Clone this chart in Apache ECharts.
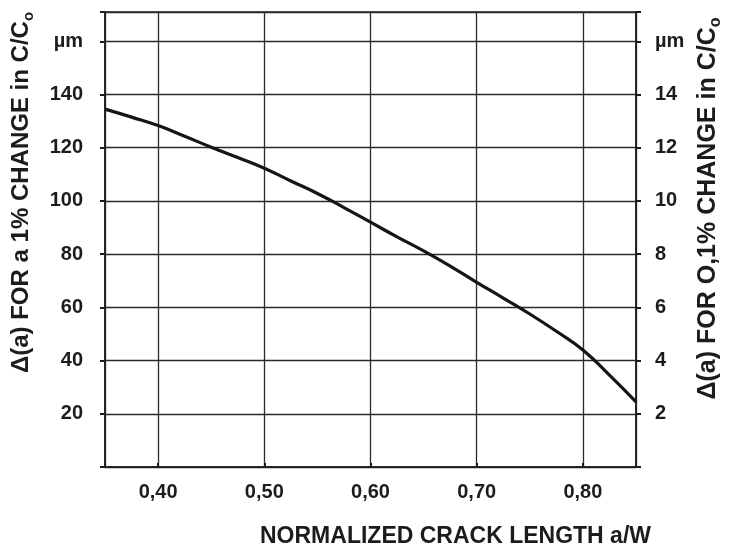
<!DOCTYPE html>
<html>
<head>
<meta charset="utf-8">
<script src="https://cdn.jsdelivr.net/npm/echarts@6/dist/echarts.min.js"></script>
<style>
html,body{margin:0;padding:0;background:#fff;}
#chart{width:732px;height:553px;}
</style>
</head>
<body>
<div id="chart"></div>
<script>
// normalized crack length a/W
const crackLength = [0.35, 0.375, 0.40, 0.425, 0.45, 0.475, 0.50, 0.525, 0.55, 0.575, 0.60, 0.625, 0.65, 0.675, 0.70, 0.725, 0.75, 0.775, 0.80, 0.825, 0.85];
// Δ(a) for a 1% change in C/Co, µm
const deltaA = [134.5, 131.5, 128.3, 124.3, 120.2, 116.3, 112.3, 107.5, 102.8, 97.5, 92.0, 86.5, 81.2, 75.5, 69.4, 63.5, 57.5, 51.0, 44.0, 34.5, 24.5];
const xTickValues = [0.40, 0.50, 0.60, 0.70, 0.80];
const xTickLabels = ['0,40', '0,50', '0,60', '0,70', '0,80'];
const leftTickValues = [20, 40, 60, 80, 100, 120, 140, 160];
const leftTickLabels = ['20', '40', '60', '80', '100', '120', '140', 'µm'];
const rightTickValues = [2, 4, 6, 8, 10, 12, 14, 16];
const rightTickLabels = ['2', '4', '6', '8', '10', '12', '14', 'µm'];

const FONT = 'Liberation Sans';
const INK = '#1c1c1c';

function lookup(vals, labels, v) {
  for (let i = 0; i < vals.length; i++) {
    if (Math.abs(vals[i] - v) < 1e-6) return labels[i];
  }
  return '';
}

const chart = echarts.init(document.getElementById('chart'), null, {renderer: 'canvas'});
chart.setOption({
  backgroundColor: '#ffffff',
  animation: false,
  grid: {
    left: 105, right: 86, top: 12, bottom: 76,
    show: true, borderColor: INK, borderWidth: 1.5, containLabel: false
  },
  xAxis: {
    type: 'value',
    min: 0.35, max: 0.85, splitNumber: 5,
    name: 'NORMALIZED CRACK LENGTH a/W',
    nameLocation: 'middle',
    nameGap: 58,
    nameTextStyle: {fontFamily: FONT, fontWeight: 'bold', fontSize: 23, color: INK, padding: [0, 0, 0, 170]},
    axisLine: {show: true, lineStyle: {color: INK, width: 1.5}},
    axisTick: {show: true, inside: true, length: 4, lineStyle: {color: INK, width: 2}},
    splitLine: {show: true, lineStyle: {color: '#2a2a2a', width: 1.3}},
    axisLabel: {
      margin: 15, fontFamily: FONT, fontWeight: 'bold', fontSize: 20, color: INK,
      showMinLabel: false, showMaxLabel: false,
      formatter: v => lookup(xTickValues, xTickLabels, v)
    }
  },
  yAxis: [{
    type: 'value',
    min: 0, max: 171, interval: 20,
    name: 'Δ(a) FOR a 1% CHANGE in C/C{s|o}',
    nameLocation: 'middle',
    nameRotate: 90,
    nameGap: 69,
    nameTextStyle: {
      fontFamily: FONT, fontWeight: 'bold', fontSize: 24, color: INK, padding: [0, 0, 0, 94],
      rich: {s: {fontFamily: FONT, fontWeight: 'bold', fontSize: 15, color: INK, verticalAlign: 'bottom', lineHeight: 30}}
    },
    axisLine: {show: true, lineStyle: {color: INK, width: 1.5}},
    axisTick: {show: true, inside: false, length: 5, lineStyle: {color: INK, width: 2}},
    splitLine: {show: true, lineStyle: {color: '#2a2a2a', width: 1.3}},
    axisLabel: {
      margin: 22, fontFamily: FONT, fontWeight: 'bold', fontSize: 20, color: INK,
      formatter: v => lookup(leftTickValues, leftTickLabels, v)
    }
  }, {
    type: 'value',
    position: 'right',
    min: 0, max: 17.1, interval: 2,
    name: 'Δ(a) FOR O,1% CHANGE in C/C{s|o}',
    nameLocation: 'middle',
    nameRotate: 90,
    nameGap: 57,
    nameTextStyle: {
      fontFamily: FONT, fontWeight: 'bold', fontSize: 25, color: INK, padding: [0, 0, 0, 62],
      rich: {s: {fontFamily: FONT, fontWeight: 'bold', fontSize: 16, color: INK, verticalAlign: 'bottom', lineHeight: 31}}
    },
    axisLine: {show: true, lineStyle: {color: INK, width: 1.5}},
    axisTick: {show: true, inside: false, length: 5, lineStyle: {color: INK, width: 2}},
    splitLine: {show: false},
    axisLabel: {
      margin: 19, fontFamily: FONT, fontWeight: 'bold', fontSize: 20, color: INK,
      formatter: v => lookup(rightTickValues, rightTickLabels, v)
    }
  }],
  series: [{
    type: 'line',
    yAxisIndex: 0,
    data: crackLength.map((x, i) => [x, deltaA[i]]),
    smooth: true,
    symbol: 'none',
    lineStyle: {color: '#151515', width: 3.2}
  }]
});
</script>
</body>
</html>
